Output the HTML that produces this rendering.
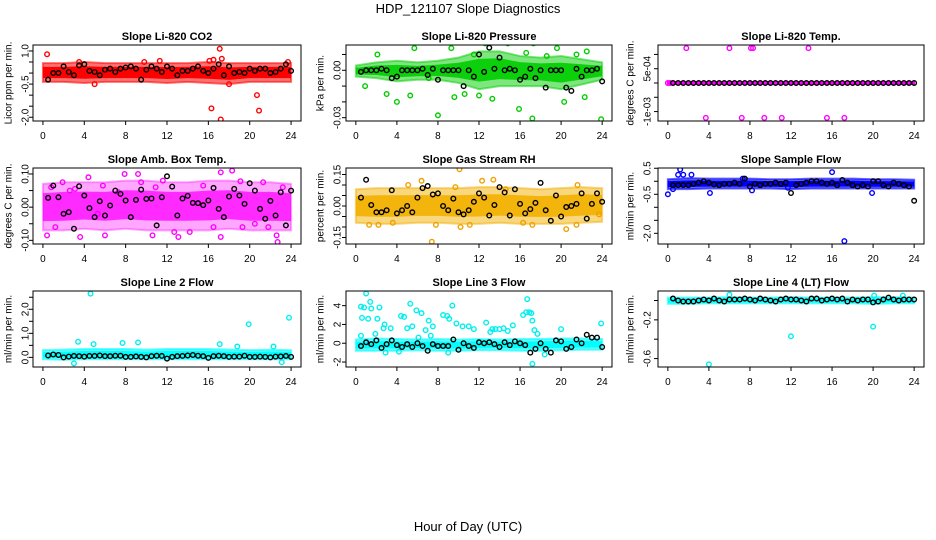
<!DOCTYPE html>
<html><head><meta charset="utf-8"><style>
html,body{margin:0;padding:0;background:#fff;}
svg{display:block;font-family:"Liberation Sans",sans-serif;}
</style></head><body>
<svg id="chart" width="936" height="540" viewBox="0 0 936 540" xmlns="http://www.w3.org/2000/svg">
<rect width="936" height="540" fill="#fff"/>
<text x="468" y="13" text-anchor="middle" font-size="13">HDP_121107  Slope Diagnostics</text>
<text x="468" y="531" text-anchor="middle" font-size="13">Hour of Day (UTC)</text>
</svg>
<script>
const hours48=[0.5,1,1.5,2,2.5,3,3.5,4,4.5,5,5.5,6,6.5,7,7.5,8,8.5,9,9.5,10,10.5,11,11.5,12,12.5,13,13.5,14,14.5,15,15.5,16,16.5,17,17.5,18,18.5,19,19.5,20,20.5,21,21.5,22,22.5,23,23.5,24];
const bandHours=[0,2,4,6,8,10,12,14,16,18,20,22,24];
const xTicks=[0,4,8,12,16,20,24];

const co2Black=[-0.3,0.0,0.0,0.3,0.05,-0.1,0.35,0.4,0.1,0.05,-0.1,0.15,0.2,0.05,0.2,0.25,0.3,0.2,-0.3,0.15,0.3,0.2,0.05,0.3,0.2,-0.1,0.1,0.1,0.2,0.3,0.1,0.0,0.2,0.4,-0.1,0.3,0.0,0.05,0.0,0.2,0.1,0.2,0.2,0.0,0.05,0.2,0.4,0.1];
const co2OutX=[0.4,16.1,16.5,17.1,17.3,16.3,17.2,20.7,20.9,5,23.7,11.3,18,3.5,9.8];
const co2OutY=[0.85,0.55,0.6,1.1,0.65,-1.6,-2.1,-1.0,-1.7,-0.5,0.5,0.55,-0.5,0.5,0.5];
const co2Lo=[-0.4,-0.4,-0.45,-0.4,-0.4,-0.4,-0.45,-0.4,-0.45,-0.5,-0.4,-0.4,-0.4];
const co2Hi=[0.45,0.45,0.5,0.45,0.45,0.45,0.45,0.45,0.5,0.45,0.45,0.45,0.45];

const presBlack=[-0.001,0,0,0,0.001,0,-0.005,-0.004,0,0,0,0,0.001,-0.003,0.001,-0.006,0,0,0,0,-0.01,0,-0.004,0.01,-0.001,0.0143,0.001,0.008,0,0.001,0,-0.006,-0.004,0.001,-0.005,0,-0.011,0,0,0,-0.011,-0.013,0.001,-0.004,0,0,0.001,-0.007];
const presOutX=[0.9,2.1,4,5.3,5.7,7.8,8,9.3,9.6,12.6,13.3,14.8,15.9,17.2,17.3,18.6,19.6,20.3,21,21.5,22.3,22.5,23.4,23.9,7.1,3,10.6,12,16.6,11.5];
const presOutY=[-0.01,0.01,-0.02,-0.016,0.014,0.018,-0.0285,0.014,-0.017,0.017,-0.018,0.017,-0.0245,-0.0305,0.017,0.009,0.014,-0.02,0.021,0.01,-0.017,0.012,0.02,-0.031,-0.005,-0.015,-0.015,-0.016,0.011,0.01];
const presLo=[-0.004,-0.005,-0.007,-0.006,-0.006,-0.008,-0.012,-0.01,-0.01,-0.01,-0.012,-0.009,-0.006];
const presHi=[0.003,0.005,0.006,0.005,0.006,0.008,0.012,0.012,0.009,0.008,0.009,0.007,0.005];

const tempBlack=[0,0,0,0,0,0,0,0,0,0,0,0,0,0,0,0,0,0,0,0,0,0,0,0,0,0,0,0,0,0,0,0,0,0,0,0,0,0,0,0,0,0,0,0,0,0,0,0];
const tempOutX=[1.8,6,8.1,8.3,13.7,3.7,7.2,9.4,11.1,15.5,17.2,0,0.2];
const tempOutY=[0.00122,0.00122,0.00122,0.00122,0.00122,-0.00122,-0.00122,-0.00122,-0.00122,-0.00122,-0.00122,0,0];
const tempLo=[-0.00003,-0.00003,-0.00003,-0.00003,-0.00003,-0.00003,-0.00003,-0.00003,-0.00003,-0.00003,-0.00003,-0.00003,-0.00003];
const tempHi=[0.00003,0.00003,0.00003,0.00003,0.00003,0.00003,0.00003,0.00003,0.00003,0.00003,0.00003,0.00003,0.00003];

const ambBlack=[0.028,0.065,0.03,-0.02,-0.015,-0.065,0.063,0.035,-0.003,-0.03,0.018,-0.025,0.005,0.05,0.04,0.02,-0.03,0.022,0.053,0.025,0.026,-0.055,0.03,0.093,0.062,-0.025,0.026,0.034,0.013,0.012,0.006,0.02,0.058,-0.005,-0.03,0.032,0.055,0.035,0.01,0.072,0.05,-0.005,-0.035,0.019,-0.025,0.045,-0.055,0.05];
const ambOutX=[0.4,1.9,4.4,5.3,6,7.9,9.2,10.6,11.6,13.1,15.5,17.2,17.2,18.3,19.1,19.3,21.3,22.6,22.7,23.2,0.8,2.6,3.6,12.7,14.2,20.5,9.5,7.3,1.2,5.8,10.9,16.5,21.8,3.1];
const ambOutY=[-0.085,0.075,0.09,-0.02,-0.085,0.1,0.1,-0.085,0.08,-0.09,0.065,0.105,-0.09,0.11,0.078,-0.06,0.075,-0.085,-0.105,0.06,0.06,0.05,-0.09,-0.075,-0.075,-0.05,0.075,0.045,-0.06,0.065,0.06,-0.06,-0.06,0.055];
const ambLo=[-0.07,-0.07,-0.065,-0.07,-0.065,-0.07,-0.07,-0.07,-0.07,-0.065,-0.07,-0.07,-0.07];
const ambHi=[0.07,0.075,0.075,0.075,0.08,0.08,0.075,0.075,0.08,0.08,0.075,0.075,0.07];

const rhBlack=[0.04,0.125,0.005,-0.03,-0.03,-0.02,0.075,-0.035,-0.02,0.0,-0.03,0.04,0.085,0.095,0.055,0.06,0.0,-0.02,0.035,-0.03,-0.04,-0.02,0.02,0.06,0.04,-0.045,0.005,0.09,0.065,-0.045,0.08,0.01,-0.035,-0.015,0.015,0.11,-0.02,-0.07,0.05,-0.05,-0.005,0.0,0.01,0.06,-0.06,0.01,0.06,0.02];
const rhOutX=[7.4,10.1,12.3,13.4,6.4,20.5,21.6,16.3,17.2,1.3,2.2,7.8,10.2,11.1,23.7,5.1,9.7,14.6,21.5,3.6];
const rhOutY=[-0.17,0.175,0.12,0.125,0.12,-0.11,0.1,-0.08,-0.09,-0.09,-0.09,-0.09,-0.1,-0.09,-0.04,0.1,0.09,0.08,-0.09,-0.08];
const rhLo=[-0.08,-0.085,-0.085,-0.08,-0.08,-0.085,-0.085,-0.08,-0.085,-0.085,-0.085,-0.08,-0.075];
const rhHi=[0.08,0.085,0.085,0.085,0.085,0.085,0.09,0.09,0.085,0.08,0.085,0.09,0.085];

const flowBlack=[-0.15,-0.15,-0.15,-0.15,-0.1,-0.05,0.0,-0.05,-0.12,-0.15,-0.1,-0.1,-0.05,-0.1,0.1,-0.2,-0.1,-0.15,-0.1,-0.1,-0.05,-0.1,-0.05,-0.45,-0.15,-0.1,-0.05,0.0,0.0,-0.05,-0.1,-0.05,-0.15,0.05,-0.05,-0.15,-0.2,-0.15,-0.2,0.0,0.0,-0.15,-0.2,-0.05,-0.1,-0.15,-0.2,-0.75];
const flowOutX=[0,1.2,1.0,1.5,2.3,4.1,8.2,16,17.2,19.9,7.3,11.7,0.5];
const flowOutY=[-0.5,0.45,0.25,0.25,0.25,-0.45,-0.35,0.35,-2.3,-0.45,0.1,-0.25,-0.3];
const flowLo=[-0.3,-0.3,-0.28,-0.28,-0.28,-0.28,-0.3,-0.28,-0.28,-0.28,-0.28,-0.28,-0.28];
const flowHi=[0.08,0.12,0.1,0.1,0.1,0.08,0.08,0.1,0.1,0.1,0.08,0.08,0.06];

const l2Black=[0.08,0.12,0.1,0.0,0.03,0.06,0.05,0.03,0.06,0.06,0.08,0.05,0.05,0.07,0.07,0.02,0.02,0.04,0.02,0.0,0.05,0.07,0.06,-0.05,0.02,0.05,0.06,0.08,0.1,0.07,0.05,-0.02,0.05,0.07,0.05,0.02,0.03,0.03,0.07,0.02,0.02,0.03,0.02,0.0,0.03,0.04,0.06,0.02];
const l2OutX=[4.6,19.9,23.8,3.4,4.9,7.7,9.2,3.0,23.1,17.1,18.8,22.3];
const l2OutY=[2.65,1.38,1.65,0.65,0.55,0.6,0.62,-0.25,-0.2,0.55,0.45,0.45];
const l2Lo=[-0.08,-0.1,-0.08,-0.08,-0.08,-0.08,-0.08,-0.08,-0.08,-0.08,-0.08,-0.08,-0.08];
const l2Hi=[0.3,0.32,0.35,0.35,0.35,0.32,0.35,0.35,0.35,0.32,0.3,0.32,0.3];

const l3Black=[-0.3,0.1,-0.1,0.3,-0.5,-0.1,0.3,-0.2,-0.4,-0.1,-0.4,0.0,-0.3,-0.8,-0.1,-0.3,-0.3,-0.3,0.4,-0.7,0.0,-0.3,-0.5,0.1,0.0,0.1,-0.1,-0.4,0.1,-0.2,0.2,0.0,-0.2,-1.0,-0.6,0.0,-0.6,-1.0,0.3,0.2,-0.6,-0.4,0.4,0.0,0.9,0.6,0.6,-0.4];
const l3OutX=[0.6,0.5,0.8,1.0,1.2,1.4,1.5,1.9,2.1,2.3,2.7,2.8,3.4,4.4,4.7,5.0,5.3,5.5,5.9,6.4,6.8,7.1,7.5,8.5,8.9,9.1,9.4,9.8,10.4,11.0,11.5,12.7,13.1,13.3,13.6,14.0,14.4,14.8,15.3,16.3,16.6,16.7,16.9,17.1,17.2,17.4,17.7,17.2,18.4,20.0,23.9,2.9,4.2,9.0,6.1,7.3,0.5];
const l3OutY=[2.7,3.9,3.8,5.3,2.6,4.4,3.7,1.0,2.6,3.8,1.6,2.0,1.6,2.9,2.8,1.6,4.2,1.8,3.5,3.2,1.4,2.4,1.8,3.0,2.9,2.6,4.0,2.1,1.8,1.8,1.5,2.2,1.2,1.5,1.5,1.5,1.6,1.3,1.9,3.0,3.3,4.7,3.3,3.2,2.4,1.4,1.0,-2.2,-1.2,1.5,2.1,-1.0,-0.9,-1.0,0.6,0.8,0.8];
const l3Lo=[-0.8,-0.8,-0.8,-0.75,-0.8,-0.8,-0.75,-0.75,-0.8,-0.8,-0.75,-0.7,-0.7];
const l3Hi=[0.4,0.5,0.45,0.4,0.45,0.4,0.45,0.4,0.45,0.45,0.5,0.5,0.45];

const l4Black=[0.02,0,-0.01,-0.01,-0.01,0,0.01,0,0.02,0,-0.01,0.01,0.01,0.01,0.02,0.01,0,0.02,0.01,0,-0.01,0.01,0.02,0.01,0.01,0,-0.01,0.02,0.02,0,0.01,0.02,0.01,0.02,-0.01,0.01,0,0.01,0.01,-0.02,-0.01,0.01,0.03,0.01,0,0.01,0.01,0.01];
const l4OutX=[4,12,20,6,22.9,20.1];
const l4OutY=[-0.66,-0.37,-0.27,0.06,0.05,0.05];
const l4Lo=[-0.035,-0.035,-0.03,-0.03,-0.03,-0.03,-0.03,-0.03,-0.03,-0.03,-0.035,-0.03,-0.03];
const l4Hi=[0.03,0.03,0.03,0.035,0.03,0.03,0.035,0.03,0.03,0.03,0.035,0.035,0.03];

const panels=[
 {name:"co2",title:"Slope Li-820 CO2",ylab:"Licor ppm per min.",color:"#ff0000",band:"#ff0000",op:[0.55,1],box:[33,45,301,121],ymin:-2.17,ymax:1.27,ticks:[1,0.5,0,-0.5,-1,-1.5,-2],labels:[1,-0.5,-2],fmt:v=>v.toFixed(1),black:co2Black,ox:co2OutX,oy:co2OutY,lo:co2Lo,hi:co2Hi,ylx:9,tlx:26},
 {name:"pressure",title:"Slope Li-820 Pressure",ylab:"kPa per min.",color:"#00cd00",band:"#00cd00",op:[0.5,0.9],box:[346,45,612,121],ymin:-0.0321,ymax:0.016,ticks:[0.01,0,-0.01,-0.02,-0.03],labels:[0,-0.03],fmt:v=>v.toFixed(2),black:presBlack,ox:presOutX,oy:presOutY,lo:presLo,hi:presHi,ylx:321,tlx:338},
 {name:"temp",title:"Slope Li-820 Temp.",ylab:"degrees C per min.",color:"#ff00ff",band:"#ff00ff",op:[1,1],box:[658,45,924,121],ymin:-0.00133,ymax:0.00133,ticks:[0.001,0.0005,0,-0.0005,-0.001],labels:[0.0005,-0.001],fmt:v=>v>0?"5e-04":"-1e-03",black:tempBlack,ox:tempOutX,oy:tempOutY,lo:tempLo,hi:tempHi,ylx:631,tlx:648},
 {name:"amb-temp",title:"Slope Amb. Box Temp.",ylab:"degrees C per min.",color:"#ff00ff",band:"#ff00ff",op:[0.35,0.75],box:[33,168,301,244],ymin:-0.111,ymax:0.118,ticks:[0.1,0.05,0,-0.05,-0.1],labels:[0.1,0,-0.1],fmt:v=>v.toFixed(2),black:ambBlack,ox:ambOutX,oy:ambOutY,lo:ambLo,hi:ambHi,ylx:9,tlx:26},
 {name:"gas-rh",title:"Slope Gas Stream RH",ylab:"percent per min.",color:"#f0a000",band:"#f2b000",op:[0.5,0.9],box:[346,168,612,244],ymin:-0.181,ymax:0.181,ticks:[0.15,0.1,0.05,0,-0.05,-0.1,-0.15],labels:[0.15,0,-0.15],fmt:v=>v.toFixed(2),black:rhBlack,ox:rhOutX,oy:rhOutY,lo:rhLo,hi:rhHi,ylx:321,tlx:338},
 {name:"sample-flow",title:"Slope Sample Flow",ylab:"ml/min per min.",color:"#0000ff",band:"#0000ff",op:[0.6,1],box:[658,168,924,244],ymin:-2.41,ymax:0.51,ticks:[0.5,0,-0.5,-1,-1.5,-2],labels:[0.5,-0.5,-2],fmt:v=>v.toFixed(1),black:flowBlack,ox:flowOutX,oy:flowOutY,lo:flowLo,hi:flowHi,ylx:631,tlx:648},
 {name:"line2-flow",title:"Slope Line 2 Flow",ylab:"ml/min per min.",color:"#00f0f0",band:"#00ffff",op:[0.6,1],box:[33,291,301,367],ymin:-0.40,ymax:2.76,ticks:[2.5,2,1.5,1,0.5,0],labels:[2,1,0],fmt:v=>v.toFixed(1),black:l2Black,ox:l2OutX,oy:l2OutY,lo:l2Lo,hi:l2Hi,ylx:9,tlx:26},
 {name:"line3-flow",title:"Slope Line 3 Flow",ylab:"ml/min per min.",color:"#00f0f0",band:"#00ffff",op:[0.6,1],box:[346,291,612,367],ymin:-2.53,ymax:5.56,ticks:[4,2,0,-2],labels:[4,2,0,-2],fmt:v=>String(v),black:l3Black,ox:l3OutX,oy:l3OutY,lo:l3Lo,hi:l3Hi,ylx:321,tlx:338},
 {name:"line4-flow",title:"Slope Line 4 (LT) Flow",ylab:"ml/min per min.",color:"#00f0f0",band:"#00ffff",op:[0.6,1],box:[658,291,924,367],ymin:-0.687,ymax:0.098,ticks:[0,-0.2,-0.4,-0.6],labels:[-0.2,-0.6],fmt:v=>v.toFixed(1),black:l4Black,ox:l4OutX,oy:l4OutY,lo:l4Lo,hi:l4Hi,ylx:631,tlx:648}
];
const NS="http://www.w3.org/2000/svg";
const svg=document.getElementById("chart");
function mk(tag,attrs,parent){const e=document.createElementNS(NS,tag);for(const k in attrs)e.setAttribute(k,attrs[k]);(parent||svg).appendChild(e);return e;}
panels.forEach(p=>{
 const [x0,y0,x1,y1]=p.box;
 const xs=h=>x0+(h+0.96)/25.92*(x1-x0);
 const ys=v=>y1-(v-p.ymin)/(p.ymax-p.ymin)*(y1-y0);
 const g=mk("g",{});
 
 
 const cid="clip-"+p.name;
 const cp=mk("clipPath",{id:cid},g);mk("rect",{x:x0,y:y0,width:x1-x0,height:y1-y0},cp);
 const t=mk("text",{x:(x0+x1)/2,y:y0-5,"text-anchor":"middle","font-size":"11","font-weight":"bold"},g);
 t.textContent=p.title;
 
 
 const yl=mk("text",{x:p.ylx,y:(y0+y1)/2,"text-anchor":"middle","font-size":"10",transform:`rotate(-90 ${p.ylx} ${(y0+y1)/2})`,"dominant-baseline":"middle"},g);
 yl.textContent=p.ylab;
 
 
 const marks=mk("g",{"clip-path":`url(#${cid})`},g);
 
 
 let d="";bandHours.forEach((h,i)=>{d+=(i?"L":"M")+xs(h)+","+ys(p.hi[i]);});
 for(let i=bandHours.length-1;i>=0;i--)d+="L"+xs(bandHours[i])+","+ys(p.lo[i]);
 const band=mk("path",{d:d+"Z",fill:p.band,"fill-opacity":p.op[0],stroke:p.band,"stroke-width":2,"stroke-opacity":p.op[0]},marks);
 
 
 let d2="";bandHours.forEach((h,i)=>{const m=(p.hi[i]+p.lo[i])/2;const r=(p.hi[i]-p.lo[i])*0.3;d2+=(i?"L":"M")+xs(h)+","+ys(m+r);});
 for(let i=bandHours.length-1;i>=0;i--){const m=(p.hi[i]+p.lo[i])/2;const r=(p.hi[i]-p.lo[i])*0.3;d2+="L"+xs(bandHours[i])+","+ys(m-r);}
 const core=mk("path",{d:d2+"Z",fill:p.band,"fill-opacity":p.op[1]},marks);
 
 
 p.ox.forEach((h,i)=>{
  const c=mk("circle",{cx:xs(h),cy:ys(p.oy[i]),r:2.3,fill:"none",stroke:p.color,"stroke-width":1.4},marks);
  
  
 });
 p.black.forEach((v,i)=>{
  const c=mk("circle",{cx:xs(hours48[i]),cy:ys(v),r:2.3,fill:"none",stroke:"#000","stroke-width":1.4},marks);
  
  
 });
 const box=mk("rect",{x:x0,y:y0,width:x1-x0,height:y1-y0,fill:"none",stroke:"#000","stroke-width":1},g);
 
 
 xTicks.forEach(h=>{
  mk("line",{x1:xs(h),x2:xs(h),y1:y1,y2:y1+4,stroke:"#000"},g);
  const tl=mk("text",{x:xs(h),y:y1+18,"text-anchor":"middle","font-size":"10"},g);
  tl.textContent=h;
  
  
 });
 p.ticks.forEach(v=>{mk("line",{x1:x0-4,x2:x0,y1:ys(v),y2:ys(v),stroke:"#000"},g);});
 p.labels.forEach(v=>{
  const yy=ys(v);
  const tl=mk("text",{x:p.tlx,y:yy,"text-anchor":"middle","font-size":"10","dominant-baseline":"middle",transform:`rotate(-90 ${p.tlx} ${yy})`},g);
  tl.textContent=p.fmt(v);
  
  
 });
});
</script>
</body></html>
